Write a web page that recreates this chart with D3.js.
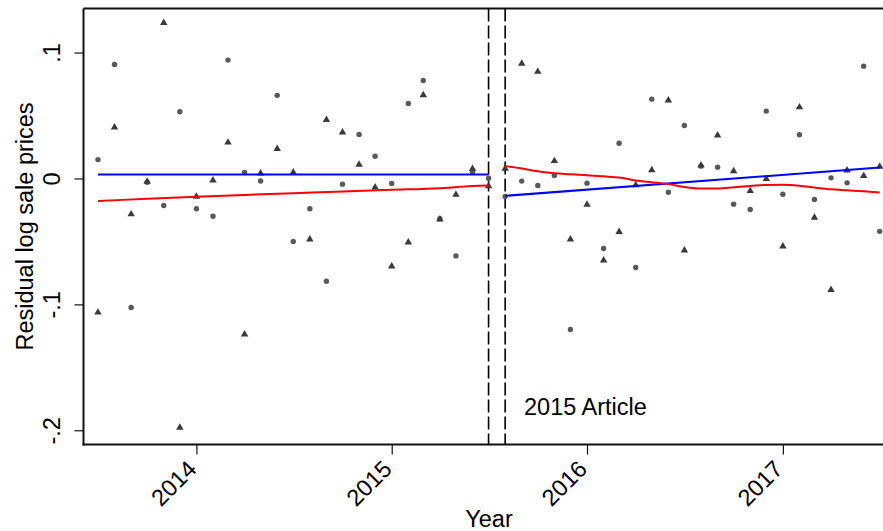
<!DOCTYPE html>
<html>
<head>
<meta charset="utf-8">
<script src="https://cdn.jsdelivr.net/npm/d3@7/dist/d3.min.js"></script>
<style>
  html, body { margin: 0; padding: 0; background: #fff; }
  svg { display: block; font-family: "Liberation Sans", Arial, Helvetica, sans-serif; }
</style>
</head>
<body>
<svg id="chart" width="883" height="531"></svg>
<script>
// Monthly observations, July 2013 to July 2017
const months = [
  "2013-07","2013-08","2013-09","2013-10","2013-11","2013-12",
  "2014-01","2014-02","2014-03","2014-04","2014-05","2014-06",
  "2014-07","2014-08","2014-09","2014-10","2014-11","2014-12",
  "2015-01","2015-02","2015-03","2015-04","2015-05","2015-06",
  "2015-07","2015-08","2015-09","2015-10","2015-11","2015-12",
  "2016-01","2016-02","2016-03","2016-04","2016-05","2016-06",
  "2016-07","2016-08","2016-09","2016-10","2016-11","2016-12",
  "2017-01","2017-02","2017-03","2017-04","2017-05","2017-06",
  "2017-07"
];

// Residual log sale prices, group A (circles)
const residA = [
   0.015,  0.0905, -0.1025, -0.003, -0.0215,  0.053,
  -0.024, -0.030,   0.094,   0.0047, -0.002,  0.066,
  -0.050, -0.024,  -0.0816, -0.0045,  0.035,  0.0177,
  -0.004,  0.0596,  0.0778, -0.032, -0.0615,  0.005,
   0.0002, -0.0143, -0.0021, -0.0056,  0.0024, -0.120,
  -0.0037, -0.0556,  0.028,  -0.0707,  0.063, -0.0109,
   0.0421,  0.0098,  0.009,  -0.0204, -0.0246,  0.0535,
  -0.0125,  0.0347, -0.0167,  0.0005, -0.0035,  0.0892,
  -0.042
];

// Residual log sale prices, group B (triangles)
const residB = [
  -0.106,  0.041,  -0.028,  -0.002,   0.124,  -0.1975,
  -0.014, -0.001,   0.029,  -0.1234,  0.0045,  0.024,
   0.0053, -0.048,  0.047,   0.037,   0.0114, -0.0067,
  -0.0694, -0.0503, 0.0667, -0.032,  -0.0125,  0.008,
  -0.0056,  0.0082, 0.0916,  0.0852,  0.0143, -0.048,
  -0.0204, -0.0646, -0.042, -0.0048,  0.0071,  0.0624,
  -0.0567,  0.0108, 0.0347,  0.0063, -0.0095,  0.000,
  -0.0535,  0.057, -0.0307, -0.088,   0.0068,  0.0024,
   0.0098
];

// Linear fits before and after the article
const linearPreMonths  = ["2013-07", "2015-07"];
const linearPreValues  = [0.0032, 0.0032];
const linearPostMonths = ["2015-08", "2017-07"];
const linearPostValues = [-0.0138, 0.0087];

// Lowess smooths before and after the article
const lowessPreMonths = ["2013-07","2013-10","2014-01","2014-04","2014-07","2014-10",
                         "2015-01","2015-04","2015-05","2015-06","2015-07"];
const lowessPreValues = [-0.0178, -0.0162, -0.0146, -0.0131, -0.0117, -0.0103,
                         -0.0090, -0.0077, -0.0069, -0.0059, -0.0056];
const lowessPostMonths = months.slice(25);
const lowessPostValues = [
   0.0098,  0.0079,  0.0058,  0.0042,  0.0034,  0.0026,
   0.0017,  0.0008, -0.0016, -0.0030, -0.0045, -0.0068,
  -0.0080, -0.0079, -0.0070, -0.0060, -0.0051, -0.0050,
  -0.0058, -0.0072, -0.0086, -0.0094, -0.0102, -0.0112
];

// Article window markers
const articleMonths = ["2015-07", "2015-08"];
const articleLabel = "2015 Article";

// Axis ticks
const yTicks = [0.1, 0, -0.1, -0.2];
const yTickLabels = [".1", "0", "-.1", "-.2"];
const xTicks = ["2014-01", "2015-01", "2016-01", "2017-01"];
const xTickLabels = ["2014", "2015", "2016", "2017"];

const parse = d3.timeParse("%Y-%m");
const svg = d3.select("#chart");
const FONT = 23.5;

const plot = { left: 83.5, right: 884, top: 8.5, bottom: 444.5 };

// x scale: monthly dates
const x = d3.scaleTime()
  .domain([d3.timeDay.offset(parse("2013-07"), -27), d3.timeDay.offset(parse("2017-07"), 8)])
  .range([plot.left, plot.right]);

const y = d3.scaleLinear()
  .domain([-0.2113, 0.135])
  .range([plot.bottom, plot.top]);

// Frame: top border
svg.append("line")
  .attr("x1", plot.left).attr("x2", plot.right)
  .attr("y1", plot.top).attr("y2", plot.top)
  .attr("stroke", "#111").attr("stroke-width", 2);

// Article window dashed lines
svg.selectAll("line.article")
  .data(articleMonths)
  .join("line")
  .attr("class", "article")
  .attr("x1", d => x(parse(d))).attr("x2", d => x(parse(d)))
  .attr("y1", plot.top).attr("y2", plot.bottom)
  .attr("stroke", "#000").attr("stroke-width", 1.6)
  .attr("stroke-dasharray", "13,4");

// Scatter points
const ptsA = months.map((m, i) => ({ m: parse(m), v: residA[i] }));
const ptsB = months.map((m, i) => ({ m: parse(m), v: residB[i] }));

svg.append("g").selectAll("circle")
  .data(ptsA)
  .join("circle")
  .attr("cx", d => x(d.m)).attr("cy", d => y(d.v))
  .attr("r", 2.7)
  .attr("fill", "#595959");

const tri = d3.symbol().type(d3.symbolTriangle).size(24);
svg.append("g").selectAll("path")
  .data(ptsB)
  .join("path")
  .attr("d", tri)
  .attr("transform", d => `translate(${x(d.m)},${y(d.v) + 0.5})`)
  .attr("fill", "#3a3a3a");

// Fitted lines
const line = d3.line().x(d => x(d.m)).y(d => y(d.v));
const smooth = d3.line().x(d => x(d.m)).y(d => y(d.v)).curve(d3.curveMonotoneX);
const toPts = (ms, vs) => ms.map((m, i) => ({ m: parse(m), v: vs[i] }));

svg.append("path").datum(toPts(linearPreMonths, linearPreValues))
  .attr("d", line).attr("fill", "none").attr("stroke", "#0000ff").attr("stroke-width", 2);
svg.append("path").datum(toPts(linearPostMonths, linearPostValues))
  .attr("d", line).attr("fill", "none").attr("stroke", "#0000ff").attr("stroke-width", 2);
svg.append("path").datum(toPts(lowessPreMonths, lowessPreValues))
  .attr("d", smooth).attr("fill", "none").attr("stroke", "#ff0000").attr("stroke-width", 2);
svg.append("path").datum(toPts(lowessPostMonths, lowessPostValues))
  .attr("d", smooth).attr("fill", "none").attr("stroke", "#ff0000").attr("stroke-width", 2);

// Article label
svg.append("text")
  .attr("x", 524).attr("y", 415)
  .attr("font-size", FONT).attr("fill", "#000")
  .text(articleLabel);

// Y axis
const yAxis = svg.append("g")
  .attr("transform", `translate(${plot.left},0)`)
  .call(d3.axisLeft(y).tickValues(yTicks).tickSize(9).tickSizeOuter(0)
        .tickFormat((d, i) => yTickLabels[i]));
yAxis.select(".domain").attr("stroke", "#111").attr("stroke-width", 2)
  .attr("d", `M0,${plot.top}V${plot.bottom + 1}`);
yAxis.selectAll(".tick line").attr("stroke", "#111").attr("stroke-width", 1.2);
yAxis.selectAll(".tick text")
  .attr("font-size", FONT).attr("fill", "#000")
  .attr("text-anchor", "middle")
  .attr("x", null).attr("dy", null)
  .attr("transform", "translate(-24,0) rotate(-90)");

// X axis
const xAxis = svg.append("g")
  .attr("transform", `translate(0,${plot.bottom})`)
  .call(d3.axisBottom(x).tickValues(xTicks.map(parse)).tickSize(10).tickSizeOuter(0)
        .tickFormat((d, i) => xTickLabels[i]));
xAxis.select(".domain").attr("stroke", "#111").attr("stroke-width", 2)
  .attr("d", `M${plot.left - 1},0H${plot.right}`);
xAxis.selectAll(".tick line").attr("stroke", "#111").attr("stroke-width", 1.2);
xAxis.selectAll(".tick text")
  .attr("font-size", FONT).attr("fill", "#000")
  .attr("text-anchor", "end")
  .attr("y", null).attr("dy", null)
  .attr("transform", "translate(1,26) rotate(-45)");

// Axis titles
svg.append("text")
  .attr("transform", `translate(33,${(plot.top + plot.bottom) / 2}) rotate(-90)`)
  .attr("text-anchor", "middle")
  .attr("font-size", FONT).attr("fill", "#000")
  .text("Residual log sale prices");

svg.append("text")
  .attr("x", 489).attr("y", 527)
  .attr("text-anchor", "middle")
  .attr("font-size", FONT).attr("fill", "#000")
  .text("Year");
</script>
</body>
</html>
